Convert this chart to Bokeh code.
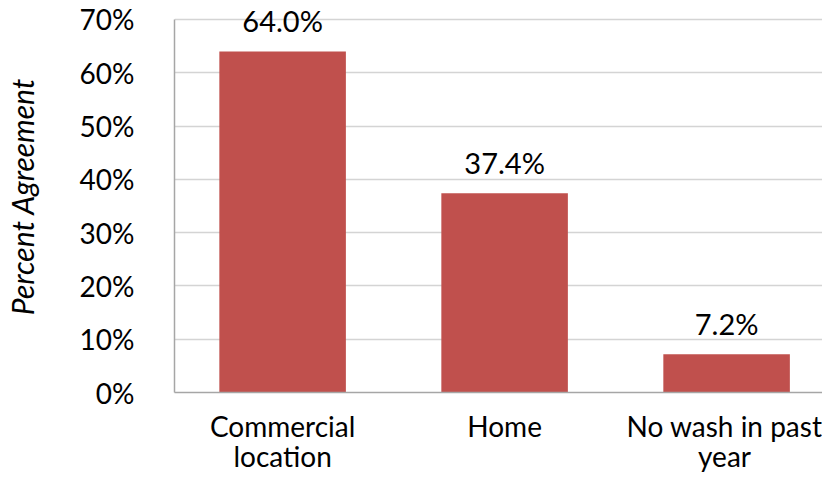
from bokeh.plotting import figure
from bokeh.models import Range1d, FixedTicker, ColumnDataSource, LabelSet
from bokeh.embed import file_html
from bokeh.resources import INLINE
from bokeh.core.properties import value

categories = ["Commercial\nlocation", "Home", "No wash in past\nyear"]
values = [64.0, 37.4, 7.2]
labels = ["64.0%", "37.4%", "7.2%"]
y_ticks = [0, 10, 20, 30, 40, 50, 60, 70]

FONT = "Lato"
FS = "28px"
xs = list(range(len(categories)))
src = ColumnDataSource(dict(x=xs, top=values, label=labels))

p = figure(width=822, height=476, output_backend="svg", toolbar_location=None,
           x_range=Range1d(-0.487, 2.432), y_range=Range1d(0, 73.56),
           min_border_left=171, min_border_right=0, min_border_top=0, min_border_bottom=83)
p.outline_line_color = None
p.background_fill_color = "white"
p.border_fill_color = "white"

p.vbar(x="x", top="top", width=0.57, source=src, fill_color="#C0504D", line_color=None)
p.add_layout(LabelSet(x="x", y="top", text="label", source=src, text_align="center",
                      text_baseline="middle", y_offset=31, text_font=value(FONT),
                      text_font_size=value("29px"), text_color=value("#000000")))

p.xgrid.grid_line_color = None
p.ygrid.grid_line_color = "#d4d4d4"
p.ygrid.grid_line_width = 1.5

p.yaxis.ticker = FixedTicker(ticks=y_ticks)
p.yaxis.bounds = (0, 70)
p.yaxis.major_label_overrides = {t: f"{t}%" for t in y_ticks}
p.yaxis.major_tick_line_color = None
p.yaxis.minor_tick_line_color = None
p.yaxis.axis_line_color = "#a6a6a6"
p.yaxis.axis_line_width = 1.5
p.yaxis.major_label_standoff = 34
p.yaxis.major_label_text_font = FONT
p.yaxis.major_label_text_font_size = FS
p.yaxis.major_label_text_color = "#000000"
p.yaxis.axis_label = "Percent Agreement"
p.yaxis.axis_label_text_font = FONT
p.yaxis.axis_label_text_font_style = "italic"
p.yaxis.axis_label_text_font_size = "30px"
p.yaxis.axis_label_text_color = "#000000"
p.yaxis.axis_label_standoff = 37

p.xaxis.ticker = FixedTicker(ticks=xs)
p.xaxis.major_label_overrides = {i: c for i, c in zip(xs, categories)}
p.xaxis.major_tick_line_color = None
p.xaxis.minor_tick_line_color = None
p.xaxis.axis_line_color = "#a6a6a6"
p.xaxis.axis_line_width = 1.5
p.xaxis.major_label_standoff = 10
p.xaxis.major_label_text_font = FONT
p.xaxis.major_label_text_font_size = FS
p.xaxis.major_label_text_line_height = 0.9
p.xaxis.major_label_text_color = "#000000"

open("out.html", "w").write(file_html(p, INLINE))
